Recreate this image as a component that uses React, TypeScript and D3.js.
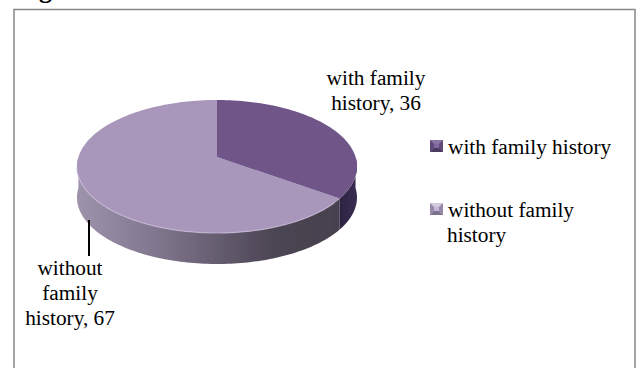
import React from "react";
import * as d3 from "d3";

const categories = ["with family history", "without family history"];
const values = [36, 67];
const legendLines = [["with family history"], ["without family", "history"]];
const sliceLabels = [
  ["with family", "history, 36"],
  ["without", "family", "history, 67"],
];

const cx = 217;
const cy = 166.5;
const rx = 140;
const ry = 66.5;
const depth = 31;
// Tilt of the disc: the pie's apex sits above the centre of the rim ellipse.
const tilt = -0.143;

function project(angle: number, radius = 1): [number, number] {
  const u = radius * Math.sin(angle);
  const v = -radius * Math.cos(angle);
  const w = 1 + tilt * v;
  return [
    cx + (rx * u * Math.sqrt(1 - tilt * tilt)) / w,
    cy + (ry * (v + tilt)) / w,
  ];
}

const line = d3.line();

function rimPoints(a0: number, a1: number): [number, number][] {
  return d3.range(0, 121).map((i) => project(a0 + ((a1 - a0) * i) / 120));
}

function wallPath(a0: number, a1: number): string {
  const top = rimPoints(a0, a1);
  const bottom = top.map(([x, y]) => [x, y + depth] as [number, number]).reverse();
  return line([...top, ...bottom]) + "Z";
}

function slicePath(a0: number, a1: number): string {
  return line([project(0, 0), ...rimPoints(a0, a1)]) + "Z";
}

// Square legend key with mitred bevel facets around a small flat centre.
function LegendKey({ x, y, w, h, face, top, bottom, side }: {
  x: number; y: number; w: number; h: number;
  face: string; top: string; bottom: string; side: string;
}) {
  const b = 4;
  const x1 = x + w;
  const y1 = y + h;
  const facet = (pts: [number, number][], fill: string) => (
    <path d={line(pts) + "Z"} fill={fill} />
  );
  return (
    <g>
      <rect x={x} y={y} width={w} height={h} fill={face} />
      {facet([[x, y], [x1, y], [x1 - b, y + b], [x + b, y + b]], top)}
      {facet([[x, y1], [x1, y1], [x1 - b, y1 - b], [x + b, y1 - b]], bottom)}
      {facet([[x, y], [x + b, y + b], [x + b, y1 - b], [x, y1]], side)}
      {facet([[x1, y], [x1 - b, y + b], [x1 - b, y1 - b], [x1, y1]], side)}
    </g>
  );
}

const keyStyles = [
  { face: "#7f68a0", top: "#8a74a3", bottom: "#4a3a60", side: "#5f4a78" },
  { face: "#c4b6d6", top: "#d5cbe0", bottom: "#7d7190", side: "#978aa8" },
];

export default function App() {
  const arcs = d3.pie<number>().sort(null)(values);
  const [withArc, withoutArc] = arcs;
  const rightEnd = Math.PI / 2;
  const leftEnd = (3 * Math.PI) / 2;
  const serif = "'Liberation Serif', 'Times New Roman', serif";
  return (
    <svg
      width={641}
      height={368}
      style={{ position: "absolute", left: 0, top: 0, background: "#fff" }}
      fontFamily={serif}
    >
      <defs>
        <linearGradient id="frontWall" gradientUnits="userSpaceOnUse" x1={77} x2={340} y1={0} y2={0}>
          <stop offset="0" stopColor="#9d94ab" />
          <stop offset="0.35" stopColor="#7b7188" />
          <stop offset="0.75" stopColor="#4b4553" />
          <stop offset="1" stopColor="#45414d" />
        </linearGradient>
        <linearGradient id="sideWall" gradientUnits="userSpaceOnUse" x1={338} x2={357} y1={0} y2={0}>
          <stop offset="0" stopColor="#2c2240" />
          <stop offset="1" stopColor="#3a2e52" />
        </linearGradient>
        <filter id="soft" x="-5%" y="-5%" width="110%" height="110%">
          <feGaussianBlur stdDeviation="0.6" />
        </filter>
      </defs>

      <text x={16} y={-2} fontSize={26} fontWeight="bold" fill="#000">
        Figure
      </text>
      <rect x={14} y={9.5} width={621} height={370} fill="#fff" stroke="#868686" strokeWidth={1.5} />

      <g filter="url(#soft)">
        <path d={wallPath(withoutArc.startAngle, leftEnd)} fill="url(#frontWall)" />
        <path d={wallPath(rightEnd, withArc.endAngle)} fill="url(#sideWall)" />
        <path d={slicePath(withoutArc.startAngle, withoutArc.endAngle)} fill="#a896bb" />
        <path d={slicePath(withArc.startAngle, withArc.endAngle)} fill="#6f5589" />
      </g>
      <path
        d={line(rimPoints(Math.PI * 0.72, Math.PI * 1.45))!}
        fill="none"
        stroke="#c6b8d6"
        strokeWidth={1.2}
        opacity={0.8}
        filter="url(#soft)"
      />

      <line x1={89} x2={89} y1={220} y2={256} stroke="#000" strokeWidth={2} />

      <text fontSize={21.3} fill="#000" textAnchor="middle">
        {sliceLabels[0].map((t, i) => (
          <tspan key={t} x={376} y={85 + i * 25}>{t}</tspan>
        ))}
      </text>
      <text fontSize={21.3} fill="#000" textAnchor="middle">
        {sliceLabels[1].map((t, i) => (
          <tspan key={t} x={70} y={275 + i * 25}>{t}</tspan>
        ))}
      </text>

      {categories.map((c, i) => (
        <g key={c}>
          <LegendKey x={430} y={[140, 203][i]} w={13} h={12} {...keyStyles[i]} />
          <text fontSize={21.3} fill="#000">
            {legendLines[i].map((t, j) => (
              <tspan key={t} x={j === 0 ? 448 : 447} y={[154, 217][i] + j * 25}>{t}</tspan>
            ))}
          </text>
        </g>
      ))}
    </svg>
  );
}
